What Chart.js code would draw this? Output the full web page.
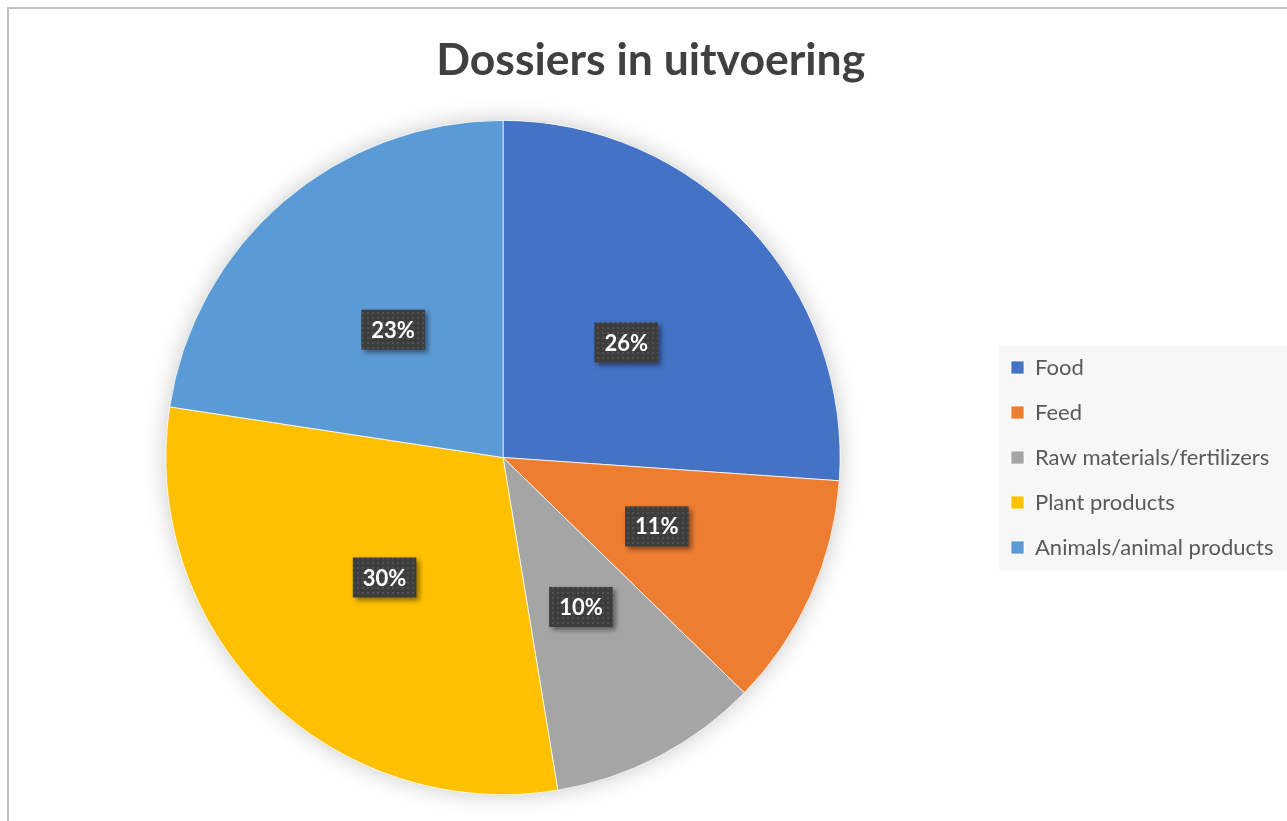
<!DOCTYPE html>
<html>
<head>
<meta charset="utf-8">
<script src="https://cdn.jsdelivr.net/npm/chart.js@4.4.1/dist/chart.umd.min.js"></script>
<style>
  html, body { margin: 0; padding: 0; background: #ffffff; overflow: hidden; }
  #wrap { width: 1287px; height: 821px; position: relative; }
</style>
</head>
<body>
<div id="wrap"><canvas id="pieChart" width="1287" height="821"></canvas></div>
<script>
// chart data
const categories = ['Food', 'Feed', 'Raw materials/fertilizers', 'Plant products', 'Animals/animal products'];
const shares = [26.1, 11.2, 10.1, 30.0, 22.6];
const sliceColors = ['#4472C4', '#ED7D31', '#A5A5A5', '#FFC000', '#5B9BD5'];
const chartTitle = 'Dossiers in uitvoering';

const fontFamily = 'Lato, "Open Sans", sans-serif';
const legendFontSize = 22;
const legendPad = 23;
const legendBox = 13;

// measure longest legend label to place the legend where the reference has it
const mctx = document.createElement('canvas').getContext('2d');
mctx.font = legendFontSize + 'px ' + fontFamily;
const maxText = Math.max(...categories.map(c => mctx.measureText(c).width));
const legendWidth = legendPad + legendBox + legendFontSize / 2 + maxText + 10;
const legendLeft = 1011 - legendPad;
const padRight = 1287 - legendLeft - legendWidth;
const padLeft = 1006 - legendLeft;

// dotted fill for the data label boxes
function makePattern(ctx) {
  const c = document.createElement('canvas');
  c.width = 5; c.height = 5;
  const p = c.getContext('2d');
  p.fillStyle = '#3d3d3d';
  p.fillRect(0, 0, 5, 5);
  p.fillStyle = '#515151';
  p.fillRect(2, 2, 2, 2);
  return ctx.createPattern(c, 'repeat');
}

// frame, legend background, pie shadow and label boxes
const decorPlugin = {
  id: 'decor',
  beforeDraw(chart) {
    const ctx = chart.ctx;
    ctx.save();
    ctx.strokeStyle = '#bfbfbf';
    ctx.lineWidth = 2;
    ctx.beginPath();
    ctx.moveTo(8, 2000);
    ctx.lineTo(8, 8);
    ctx.lineTo(2000, 8);
    ctx.stroke();
    const lg = chart.legend;
    if (lg && lg.legendHitBoxes && lg.legendHitBoxes.length) {
      const first = lg.legendHitBoxes[0];
      const last = lg.legendHitBoxes[lg.legendHitBoxes.length - 1];
      ctx.fillStyle = '#f7f7f7';
      ctx.fillRect(lg.left + 11, first.top - 11, 400, last.top + last.height - first.top + 23);
    }
    ctx.restore();
  },
  beforeDatasetsDraw(chart) {
    const arc = chart.getDatasetMeta(0).data[0];
    if (!arc) return;
    const ctx = chart.ctx;
    ctx.save();
    ctx.shadowColor = 'rgba(0,0,0,0.22)';
    ctx.shadowBlur = 22;
    ctx.fillStyle = '#ffffff';
    ctx.beginPath();
    ctx.arc(arc.x, arc.y, arc.outerRadius, 0, Math.PI * 2);
    ctx.fill();
    ctx.restore();
  },
  afterDatasetsDraw(chart) {
    const ctx = chart.ctx;
    const data = chart.data.datasets[0].data;
    const total = data.reduce((a, b) => a + b, 0);
    const pattern = makePattern(ctx);
    ctx.save();
    ctx.font = 'bold 22px ' + fontFamily;
    ctx.textAlign = 'center';
    ctx.textBaseline = 'middle';
    chart.getDatasetMeta(0).data.forEach((arc, i) => {
      const pos = arc.tooltipPosition();
      const txt = Math.round(data[i] / total * 100) + '%';
      const w = ctx.measureText(txt).width + 20;
      const h = 40;
      ctx.save();
      ctx.shadowColor = 'rgba(0,0,0,0.45)';
      ctx.shadowBlur = 5;
      ctx.shadowOffsetX = 3;
      ctx.shadowOffsetY = 3;
      ctx.fillStyle = pattern;
      ctx.fillRect(pos.x - w / 2, pos.y - h / 2, w, h);
      ctx.restore();
      ctx.fillStyle = '#ffffff';
      ctx.fillText(txt, pos.x, pos.y + 1);
    });
    ctx.restore();
  }
};

const config = {
  type: 'pie',
  data: {
    labels: categories,
    datasets: [{
      data: shares,
      backgroundColor: sliceColors,
      borderColor: '#ffffff',
      borderWidth: 0.75
    }]
  },
  options: {
    responsive: false,
    animation: false,
    rotation: 0,
    layout: {
      padding: { left: padLeft, right: padRight, top: 0, bottom: 26 }
    },
    plugins: {
      title: {
        display: true,
        text: chartTitle,
        color: '#404040',
        font: { family: fontFamily, size: 44.5, weight: 'bold', lineHeight: 1.2 },
        padding: { top: 34, bottom: 32.6 }
      },
      legend: {
        position: 'right',
        align: 'center',
        fullSize: false,
        labels: {
          color: '#595959',
          font: { family: fontFamily, size: legendFontSize },
          boxWidth: legendBox,
          boxHeight: legendBox,
          padding: legendPad
        }
      },
      tooltip: { enabled: false }
    }
  },
  plugins: [decorPlugin]
};

const ctx = document.getElementById('pieChart').getContext('2d');
const pieChart = new Chart(ctx, config);
</script>
</body>
</html>
